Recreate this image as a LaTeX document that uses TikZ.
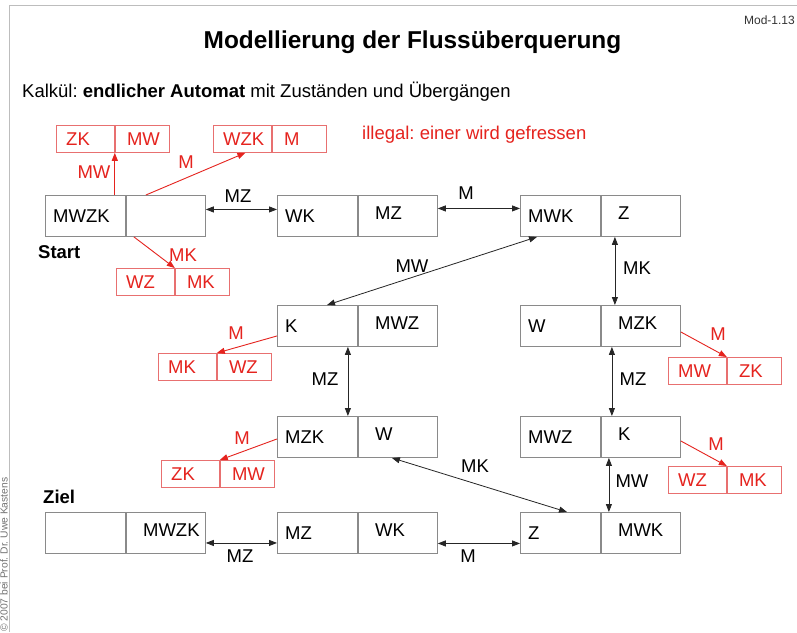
\documentclass[tikz,border=0pt]{standalone}
\usepackage{fontspec}
\setmainfont{Liberation Sans}
\usetikzlibrary{arrows.meta}
\frenchspacing
\definecolor{boxgray}{HTML}{8A8A8A}
\definecolor{illred}{HTML}{E5231E}
\definecolor{redbox}{HTML}{E87070}
\definecolor{framegray}{HTML}{BDBDBD}
\newcommand\boxfont{\fontsize{18.5}{22}\selectfont}
\newcommand\mkstate[6]{%
  \node[#2cellL, anchor=north west] (#1l) at (#3,#4) {};
  \node[#2cellR, anchor=north west] (#1r) at (#1l.north east) {};
  \node[#2txtL] (#1lt) at (#1l.west) {#5};
  \node[#2txtR] (#1rt) at (#1r.west) {#6};
}
\tikzset{
  bcellL/.style={draw=boxgray, line width=0.9pt, minimum width=80pt, minimum height=41pt, inner sep=0pt},
  bcellR/.style={bcellL, minimum width=79pt},
  btxtL/.style={anchor=west, xshift=8pt, font=\boxfont, inner sep=0pt},
  btxtR/.style={btxtL, xshift=9pt, yshift=3pt},
  rcellL/.style={draw=redbox, line width=0.8pt, minimum width=58pt, minimum height=27pt, inner sep=0pt},
  rcellR/.style={rcellL, minimum width=54pt},
  rtxtL/.style={anchor=west, xshift=10pt, font=\boxfont, text=illred, inner sep=0pt},
  rtxtR/.style={rtxtL, xshift=2pt},
  dbl/.style={{Triangle[length=8pt,width=6pt]}-{Triangle[length=8pt,width=6pt]}, draw=black!85, line width=0.8pt},
  rarr/.style={-{Triangle[length=8pt,width=6pt]}, draw=illred, line width=0.9pt},
  lbl/.style={font=\boxfont, inner sep=0pt},
  rlbl/.style={lbl, text=illred}
}
\begin{document}
\begin{tikzpicture}[x=1pt,y=-1pt]
\useasboundingbox (0,0) rectangle (797,632);
\fill[white] (0,0) rectangle (797,632);
\draw[framegray, line width=1pt] (9,632) -- (9,5) -- (797,5);
\node[rotate=90, anchor=base west, font=\fontsize{10.3}{12}\selectfont, text=black!55, inner sep=0pt] (copy) at (7.5,632) {© 2007 bei Prof. Dr. Uwe Kastens};
\node[anchor=base east, font=\fontsize{12}{14}\selectfont, text=black!80, inner sep=0pt] (pnum) at (795,24) {Mod-1.13};
\node[anchor=base, font=\fontsize{24.4}{28}\selectfont\bfseries, inner sep=0pt] (title) at (412.5,48) {Modellierung der Flussüberquerung};
\node[anchor=base west, font=\boxfont, inner sep=0pt] (calc) at (22,97) {Kalkül: \textbf{endlicher Automat} mit Zuständen und Übergängen};
\node[anchor=base west, font=\boxfont, text=illred, inner sep=0pt] (illegal) at (362,139) {illegal: einer wird gefressen};
% states
\mkstate{A}{b}{45}{195}{MWZK}{}
\mkstate{B}{b}{277}{195}{WK}{MZ}
\mkstate{C}{b}{520}{195}{MWK}{Z}
\mkstate{D}{b}{277}{305}{K}{MWZ}
\mkstate{F}{b}{520}{305}{W}{MZK}
\mkstate{E}{b}{277}{416}{MZK}{W}
\mkstate{G}{b}{520}{416}{MWZ}{K}
\mkstate{I}{b}{45}{512}{}{MWZK}
\mkstate{J}{b}{277}{512}{MZ}{WK}
\mkstate{H}{b}{520}{512}{Z}{MWK}
\node[anchor=west, font=\boxfont\bfseries, inner sep=0pt] (start) at (38,252) {Start};
\node[anchor=west, font=\boxfont\bfseries, inner sep=0pt] (ziel) at (43,497) {Ziel};
% illegal states
\mkstate{Ra}{r}{56}{125}{ZK}{MW}
\mkstate{Rb}{r}{213}{125}{WZK}{M}
\mkstate{Rc}{r}{116}{268}{WZ}{MK}
\mkstate{Rd}{r}{158}{353}{MK}{WZ}
\mkstate{Re}{r}{161}{460}{ZK}{MW}
\mkstate{Rf}{r}{668}{357}{MW}{ZK}
\mkstate{Rg}{r}{668}{466}{WZ}{MK}
% legal transitions
\draw[dbl] ([yshift=6.5pt]Ar.east) -- ([yshift=6.5pt]Bl.west);
\node[lbl] (t1) at (238,196) {MZ};
\draw[dbl] ([yshift=7.5pt]Br.east) -- ([yshift=7.5pt]Cl.west);
\node[lbl] (t2) at (466,193) {M};
\draw[dbl] ([xshift=17pt]Cl.south west) -- ([xshift=50pt]Dl.north west);
\node[lbl] (t3) at (412,266) {MW};
\draw[dbl] ([xshift=14pt]Cr.south west) -- ([xshift=14pt]Fr.north west);
\node[lbl] (t4) at (637,268) {MK};
\draw[dbl] ([xshift=-10pt]Dl.south east) -- ([xshift=-10pt]El.north east);
\node[lbl] (t5) at (325,379) {MZ};
\draw[dbl] ([xshift=11pt]Fr.south west) -- ([xshift=11pt]Gr.north west);
\node[lbl] (t6) at (633,379) {MZ};
\draw[dbl] ([xshift=8pt]Gr.south west) -- ([xshift=8pt]Hr.north west);
\node[lbl] (t7) at (632,481) {MW};
\draw[dbl] ([xshift=34pt]Er.south west) -- ([xshift=47pt]Hl.north west);
\node[lbl] (t8) at (475,466) {MK};
\draw[dbl] ([yshift=-10pt]Ir.east) -- ([yshift=-10pt]Jl.west);
\node[lbl] (t9) at (240,556) {MZ};
\draw[dbl] ([yshift=-10.5pt]Jr.east) -- ([yshift=-10.5pt]Hl.west);
\node[lbl] (t10) at (468,556) {M};
% illegal transitions
\draw[rarr] (Ral.south east |- Al.north) -- (Ral.south east);
\node[rlbl] (r1) at (94,172) {MW};
\draw[rarr] ([xshift=20pt]Ar.north west) -- ([xshift=3pt]Rbl.south);
\node[rlbl] (r2) at (186,162) {M};
\draw[rarr] ([xshift=8pt]Ar.south west) -- (Rcl.north east);
\node[rlbl] (r3) at (183,255) {MK};
\draw[rarr] ([yshift=-10pt]Dl.west) -- (Rdl.north east);
\node[rlbl] (r4) at (236,333) {M};
\draw[rarr] ([yshift=-2pt]El.west) -- (Rel.north east);
\node[rlbl] (r5) at (242,438) {M};
\draw[rarr] ([yshift=-6pt]Fr.east) -- (Rfl.north east);
\node[rlbl] (r6) at (718,334) {M};
\draw[rarr] ([yshift=-4pt]Gr.east) -- (Rgl.north east);
\node[rlbl] (r7) at (716,444) {M};
\end{tikzpicture}
\end{document}
